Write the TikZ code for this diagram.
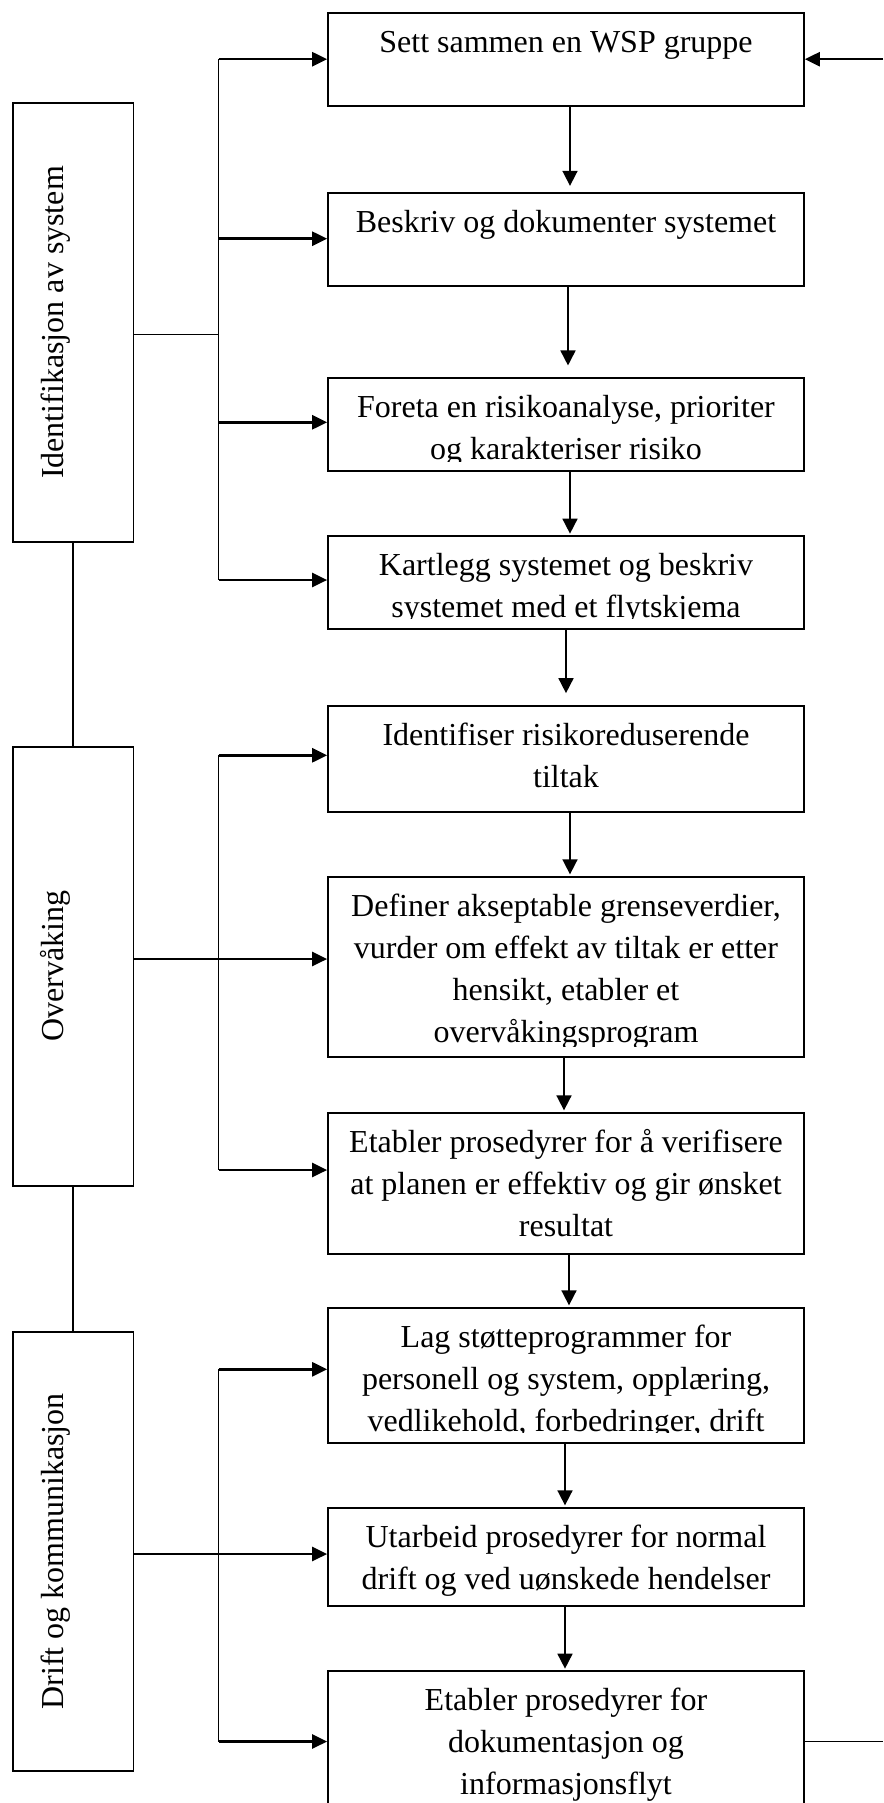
\documentclass[tikz,border=0pt]{standalone}
\usepackage{fontspec}
\setmainfont{Liberation Serif}
\usetikzlibrary{arrows.meta}
\begin{document}
\begin{tikzpicture}[x=1pt,y=-1pt,
  stepbox/.style={draw, line width=1.7pt, minimum width=476pt, inner sep=0pt},
  sidebox/.style={draw, line width=1.7pt, minimum width=120.7pt, inner sep=0pt},
  txt/.style={anchor=base, inner sep=0pt, font=\fontsize{32}{42}\selectfont},
  conn/.style={line width=1.5pt},
  harrow/.style={line width=2.5pt, -{Triangle[length=15pt,width=14pt]}},
  varrow/.style={line width=1.7pt, -{Triangle[length=15pt,width=15pt]}},
]
\useasboundingbox (0,0) rectangle (883,1803);

% step boxes
\node[stepbox, minimum height=93pt]    (b1)  at (566,59.2)   {};
\node[stepbox, minimum height=93pt]    (b2)  at (566,239.2)  {};
\node[stepbox, minimum height=93pt]    (b3)  at (566,424.8)  {};
\node[stepbox, minimum height=93pt]    (b4)  at (566,582.5)  {};
\node[stepbox, minimum height=105.7pt] (b5)  at (566,758.85) {};
\node[stepbox, minimum height=180pt]   (b6)  at (566,966.7)  {};
\node[stepbox, minimum height=141.6pt] (b7)  at (566,1183.5) {};
\node[stepbox, minimum height=135pt]   (b8)  at (566,1375.2) {};
\node[stepbox, minimum height=98.3pt]  (b9)  at (566,1556.85){};
\node[stepbox, minimum height=149pt]   (b10) at (566,1745.5) {};

% side boxes
\node[sidebox, minimum height=439.6pt] (L1) at (73,322.5)  {};
\node[sidebox, minimum height=439.3pt] (L2) at (73,966.35) {};
\node[sidebox, minimum height=439.3pt] (L3) at (73,1551.35){};

\node[txt, rotate=90] (tL1) at (63,322.5)  {Identifikasjon av system};
\node[txt, rotate=90] (tL2) at (63,966.35) {Overvåking};
\node[txt, rotate=90] (tL3) at (63,1551.35){Drift og kommunikasjon};

% texts of step boxes (clipped like the reference)
\begin{scope}
\clip (b1.north west) rectangle ([yshift=11pt]b1.south east);
\node[txt] (t1a) at (566,52.2) {Sett sammen en WSP gruppe};
\end{scope}
\begin{scope}
\clip (b2.north west) rectangle ([yshift=11pt]b2.south east);
\node[txt] (t2a) at (566,232.2) {Beskriv og dokumenter systemet};
\end{scope}
\begin{scope}
\clip (b3.north west) rectangle ([yshift=11pt]b3.south east);
\node[txt] (t3a) at (566,417.8) {Foreta en risikoanalyse, prioriter};
\node[txt] (t3b) at (566,459.8) {og karakteriser risiko};
\end{scope}
\begin{scope}
\clip (b4.north west) rectangle ([yshift=11pt]b4.south east);
\node[txt] (t4a) at (566,575.5) {Kartlegg systemet og beskriv};
\node[txt] (t4b) at (566,617.5) {systemet med et flytskjema};
\end{scope}
\begin{scope}
\clip (b5.north west) rectangle ([yshift=11pt]b5.south east);
\node[txt] (t5a) at (566,745.5) {Identifiser risikoreduserende};
\node[txt] (t5b) at (566,787.5) {tiltak};
\end{scope}
\begin{scope}
\clip (b6.north west) rectangle ([yshift=11pt]b6.south east);
\node[txt] (t6a) at (566,916.2)  {Definer akseptable grenseverdier,};
\node[txt] (t6b) at (566,958.2)  {vurder om effekt av tiltak er etter};
\node[txt] (t6c) at (566,1000.2) {hensikt, etabler et};
\node[txt] (t6d) at (566,1042.2) {overvåkingsprogram};
\end{scope}
\begin{scope}
\clip (b7.north west) rectangle ([yshift=11pt]b7.south east);
\node[txt] (t7a) at (566,1152.2) {Etabler prosedyrer for å verifisere};
\node[txt] (t7b) at (566,1194.2) {at planen er effektiv og gir ønsket};
\node[txt] (t7c) at (566,1236.2) {resultat};
\end{scope}
\begin{scope}
\clip (b8.north west) rectangle ([yshift=11pt]b8.south east);
\node[txt] (t8a) at (566,1347.2) {Lag støtteprogrammer for};
\node[txt] (t8b) at (566,1389.2) {personell og system, opplæring,};
\node[txt] (t8c) at (566,1431.2) {vedlikehold, forbedringer, drift};
\end{scope}
\begin{scope}
\clip (b9.north west) rectangle ([yshift=11pt]b9.south east);
\node[txt] (t9a) at (566,1547.2) {Utarbeid prosedyrer for normal};
\node[txt] (t9b) at (566,1589.2) {drift og ved uønskede hendelser};
\end{scope}
\begin{scope}
\clip (b10.north west) rectangle (b10.south east);
\node[txt] (t10a) at (566,1710.5) {Etabler prosedyrer for};
\node[txt] (t10b) at (566,1752.5) {dokumentasjon og};
\node[txt] (t10c) at (566,1794.5) {informasjonsflyt};
\end{scope}

% vertical flow arrows
\draw[varrow, shorten >=6pt]  ([xshift=4pt]b1.south) -- ([xshift=4pt]b2.north);
\draw[varrow, shorten >=12pt] ([xshift=2pt]b2.south) -- ([xshift=2pt]b3.north);
\draw[varrow, shorten >=1.5pt]([xshift=4pt]b3.south) -- ([xshift=4pt]b4.north);
\draw[varrow, shorten >=12pt] (b4.south) -- (b5.north);
\draw[varrow, shorten >=1.5pt]([xshift=4pt]b5.south) -- ([xshift=4pt]b6.north);
\draw[varrow, shorten >=1.5pt]([xshift=-2pt]b6.south) -- ([xshift=-2pt]b7.north);
\draw[varrow, shorten >=1.5pt]([xshift=3pt]b7.south) -- ([xshift=3pt]b8.north);
\draw[varrow, shorten >=1.5pt]([xshift=-1pt]b8.south) -- ([xshift=-1pt]b9.north);
\draw[varrow, shorten >=1.5pt]([xshift=-1pt]b9.south) -- ([xshift=-1pt]b10.north);

% side box chain
\draw[conn] (L1.south) -- (L2.north);
\draw[conn] (L2.south) -- (L3.north);

% branch 1
\coordinate (p1) at (218.5,59.2);
\coordinate (p2) at (218.5,238.7);
\coordinate (p3) at (218.5,422.3);
\coordinate (p4) at (218.5,580);
\coordinate (s1) at (218.5,334.7);
\draw[conn] (p1) -- (p4);
\draw[conn] (s1 -| L1.east) -- (s1);
\draw[harrow] (p1) -- (p1 -| b1.west);
\draw[harrow] (p2) -- (p2 -| b2.west);
\draw[harrow] (p3) -- (p3 -| b3.west);
\draw[harrow] (p4) -- (p4 -| b4.west);

% branch 2
\coordinate (p5) at (218.5,755.3);
\coordinate (p6) at (218.5,959);
\coordinate (p7) at (218.5,1170);
\draw[conn] (p5) -- (p7);
\draw[conn] (p6 -| L2.east) -- (p6);
\draw[harrow] (p5) -- (p5 -| b5.west);
\draw[harrow] (p6) -- (p6 -| b6.west);
\draw[harrow] (p7) -- (p7 -| b7.west);

% branch 3
\coordinate (p8) at (218.5,1369.3);
\coordinate (p9) at (218.5,1554);
\coordinate (p10) at (218.5,1741.5);
\draw[conn] (p8) -- (p10);
\draw[conn] (p9 -| L3.east) -- (p9);
\draw[harrow] (p8) -- (p8 -| b8.west);
\draw[harrow] (p9) -- (p9 -| b9.west);
\draw[harrow] (p10) -- (p10 -| b10.west);

% feedback stubs at the right edge
\coordinate (r1) at (883,59.2);
\coordinate (r10) at (883,1741.5);
\draw[harrow] (r1) -- (b1.east);
\draw[conn] (r10 -| b10.east) -- (r10);
\end{tikzpicture}
\end{document}
